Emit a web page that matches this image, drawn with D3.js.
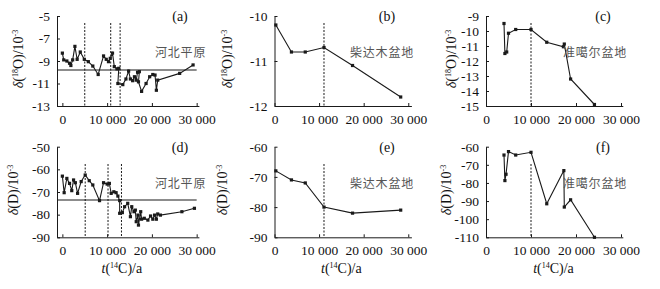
<!DOCTYPE html>
<head>
  <meta charset="utf-8">
  <script src="https://d3js.org/d3.v7.min.js"></script>
  <style>
    body { margin: 0; background: #fff; }
    text { font-family: "Liberation Serif", "DejaVu Serif", serif; fill: #111; }
    .cn { font-family: "Noto Sans CJK SC", sans-serif; fill: #555; font-size: 12px; letter-spacing: 0.8px; }
  </style>
</head>
<body>
  <div id="chart"></div>
  <script>
    // ---- data ----
    var xTicks = [0, 10000, 20000, 30000];
    var basins = ["河北平原", "柴达木盆地", "准噶尔盆地"];
    var letters = ["(a)", "(b)", "(c)", "(d)", "(e)", "(f)"];

    // Hebei plain
    var hebeiO18Age = [0, 300, 1000, 1600, 1900, 2300, 2800, 3300, 4000, 4900, 5800, 6800, 8000, 9200, 9800, 10300, 10700, 11200, 11600, 12200, 12600, 12400, 13500, 14200, 14800, 15200, 15700, 16100, 16500, 16800, 17200, 17000, 17700, 18700, 19500, 20200, 20700, 21000, 21300, 26200, 29200];
    var hebeiO18 = [-8.3, -8.9, -9.0, -9.2, -9.4, -8.9, -7.7, -8.85, -8.2, -8.85, -9.06, -9.45, -10.2, -8.55, -8.85, -9.06, -8.76, -8.3, -9.5, -9.7, -9.65, -11.0, -11.1, -10.6, -9.9, -10.6, -10.75, -10.4, -10.7, -10.0, -9.95, -10.85, -11.7, -11.0, -10.4, -10.2, -10.25, -11.6, -10.7, -10.1, -9.35];
    var hebeiO18Mean = -9.8;
    var hebeiO18Marks = [5000, 10800, 12900];

    var hebeiDAge = [0, 400, 1000, 1600, 2100, 2500, 2900, 3400, 4200, 5100, 6000, 6800, 8300, 9200, 10000, 10500, 10900, 11500, 12000, 12400, 12800, 12800, 13400, 13900, 14600, 15200, 15500, 16000, 16300, 16500, 16900, 17000, 17500, 17700, 18300, 19100, 19700, 20200, 20600, 21000, 21300, 21900, 26700, 29500];
    var hebeiD = [-63, -70.3, -64, -66.2, -69.4, -64.7, -65.9, -70.6, -65.4, -62.5, -65, -66.9, -73.8, -65.9, -66.5, -66.2, -70.6, -69.9, -70.3, -71.8, -73.8, -79.4, -79.1, -76.5, -75, -80.9, -76.5, -78.7, -78, -83.1, -80.2, -84.6, -78.7, -82, -81.6, -82.4, -80.6, -82, -80.2, -82, -79.7, -80.2, -78.7, -77.2];
    var hebeiDMean = -73.5;
    var hebeiDMarks = [5100, 10200, 13200];

    // Qaidam basin
    var qaidamAge = [300, 3800, 6900, 11100, 17500, 28300];
    var qaidamO18 = [-10.2, -10.8, -10.8, -10.7, -11.1, -11.8];
    var qaidamD = [-68, -71, -72, -80, -82, -81];
    var qaidamMarks = [11100];

    // Junggar basin
    var junggarO18Age = [4000, 4200, 4600, 5000, 6600, 10000, 13500, 17200, 17400, 18800, 24100];
    var junggarO18 = [-9.5, -11.5, -11.4, -10.15, -9.9, -9.9, -10.75, -11.05, -10.87, -13.2, -14.9];
    var junggarDAge = [4000, 4200, 4450, 5000, 6600, 10000, 13500, 17300, 17400, 18800, 24100];
    var junggarD = [-64.6, -78.7, -75.2, -62.7, -64.6, -63.1, -91.5, -73.2, -93.3, -89.3, -110];
    var junggarMarks = [10000];

    var o18Ticks = [[-13, -11, -9, -7, -5], [-12, -11, -10], [-15, -14, -13, -12, -11, -10, -9]];
    var dTicks = [[-90, -80, -70, -60, -50], [-90, -80, -70, -60], [-110, -100, -90, -80, -70, -60]];

    // ---- layout ----
    var width = 660, height = 289;
    var svg = d3.select("#chart").append("svg")
      .attr("width", width).attr("height", height);

    var cols = [
      { x0: 57, xDom: [-1200, 30500], xRng: [57, 198.9], labX: 23, ltr: 180, cnX: 155 },
      { x0: 274.5, xDom: [0, 30700], xRng: [274.5, 411.4], labX: 232, ltr: 387, cnX: 350 },
      { x0: 486, xDom: [0, 30400], xRng: [486, 622.8], labX: 456, ltr: 603, cnX: 563 }
    ];
    var rows = [
      { yRng: [106, 16], top: 23, letterY: 21, cnY: 57 },
      { yRng: [237.3, 146.7], top: 164, letterY: 152, cnY: 188 }
    ];

    var panels = [
      { c: 0, r: 0, age: hebeiO18Age, val: hebeiO18, yDom: [-13, -5], yt: o18Ticks[0], mean: hebeiO18Mean, marks: hebeiO18Marks, iso: "O" },
      { c: 1, r: 0, age: qaidamAge, val: qaidamO18, yDom: [-12, -10], yt: o18Ticks[1], marks: qaidamMarks, iso: "O" },
      { c: 2, r: 0, age: junggarO18Age, val: junggarO18, yDom: [-15, -9], yt: o18Ticks[2], marks: junggarMarks, iso: "O" },
      { c: 0, r: 1, age: hebeiDAge, val: hebeiD, yDom: [-90, -50], yt: dTicks[0], mean: hebeiDMean, marks: hebeiDMarks, iso: "D" },
      { c: 1, r: 1, age: qaidamAge, val: qaidamD, yDom: [-90, -60], yt: dTicks[1], marks: qaidamMarks, iso: "D" },
      { c: 2, r: 1, age: junggarDAge, val: junggarD, yDom: [-110, -60], yt: dTicks[2], marks: junggarMarks, iso: "D" }
    ];

    var fmt = function(d) { return d3.format(",")(d).replace(",", " "); };
    var ink = "#1a1a1a";

    panels.forEach(function(p, i) {
      var col = cols[p.c], row = rows[p.r];
      var x = d3.scaleLinear().domain(col.xDom).range(col.xRng);
      var y = d3.scaleLinear().domain(p.yDom).range(row.yRng);
      var g = svg.append("g");

      // axes
      var xa = g.append("g")
        .attr("transform", "translate(0," + row.yRng[0] + ")")
        .call(d3.axisBottom(x).tickValues(xTicks).tickFormat(fmt).tickSize(-3).tickSizeOuter(0).tickPadding(8));
      var ya = g.append("g")
        .attr("transform", "translate(" + col.x0 + ",0)")
        .call(d3.axisLeft(y).tickValues(p.yt).tickFormat(function(d) { return String(d); }).tickSize(-3).tickSizeOuter(0).tickPadding(7));
      [xa, ya].forEach(function(a) {
        a.selectAll("path, line").attr("stroke", ink).attr("stroke-width", 1);
        a.selectAll("text").attr("font-size", "13.5px").attr("fill", ink)
          .attr("font-family", "Liberation Serif, serif");
      });

      // reference lines
      if (p.mean !== undefined) {
        g.append("line")
          .attr("x1", col.x0).attr("x2", x(30000))
          .attr("y1", y(p.mean)).attr("y2", y(p.mean))
          .attr("stroke", ink).attr("stroke-width", 1.1);
      }
      g.selectAll(".mark").data(p.marks).enter().append("line")
        .attr("x1", function(d) { return x(d); }).attr("x2", function(d) { return x(d); })
        .attr("y1", row.top).attr("y2", row.yRng[0])
        .attr("stroke", ink).attr("stroke-width", 1).attr("stroke-dasharray", "2,1.5");

      // series
      var pts = p.age.map(function(a, k) { return [a, p.val[k]]; });
      g.append("path")
        .attr("d", d3.line().x(function(d) { return x(d[0]); }).y(function(d) { return y(d[1]); })(pts))
        .attr("fill", "none").attr("stroke", ink).attr("stroke-width", 1.1);
      g.selectAll(".pt").data(pts).enter().append("rect")
        .attr("x", function(d) { return x(d[0]) - 1.6; })
        .attr("y", function(d) { return y(d[1]) - 1.6; })
        .attr("width", 3.2).attr("height", 3.2).attr("fill", ink);

      // letter and basin name
      g.append("text").attr("x", col.ltr).attr("y", row.letterY)
        .attr("text-anchor", "middle").attr("font-size", "14px").text(letters[i]);
      g.append("text").attr("class", "cn").attr("x", col.cnX).attr("y", row.cnY).text(basins[p.c]);

      // y title
      var yc = (row.yRng[0] + row.yRng[1]) / 2 - 2;
      var t = g.append("text")
        .attr("transform", "translate(" + (col.labX - (p.r ? 5 : 0)) + "," + yc + ") rotate(-90)")
        .attr("text-anchor", "middle").attr("font-size", "14px");
      t.append("tspan").attr("font-style", "italic").text("δ");
      if (p.iso === "O") {
        t.append("tspan").text("(");
        t.append("tspan").attr("font-size", "8px").attr("dy", -5).text("18");
        t.append("tspan").attr("dy", 5).text("O)/10");
      } else {
        t.append("tspan").text("(D)/10");
      }
      t.append("tspan").attr("font-size", "8px").attr("dy", -5).text("-3");

      // x title (bottom row)
      if (p.r === 1) {
        var xt = g.append("text")
          .attr("x", (col.xRng[0] + x(30000)) / 2 + (p.c === 0 ? -5 : 0)).attr("y", 273)
          .attr("text-anchor", "middle").attr("font-size", "14px");
        xt.append("tspan").attr("font-style", "italic").text("t");
        xt.append("tspan").text("(");
        xt.append("tspan").attr("font-size", "8px").attr("dy", -5).text("14");
        xt.append("tspan").attr("dy", 5).text("C)/a");
      }
    });
  </script>
</body>
